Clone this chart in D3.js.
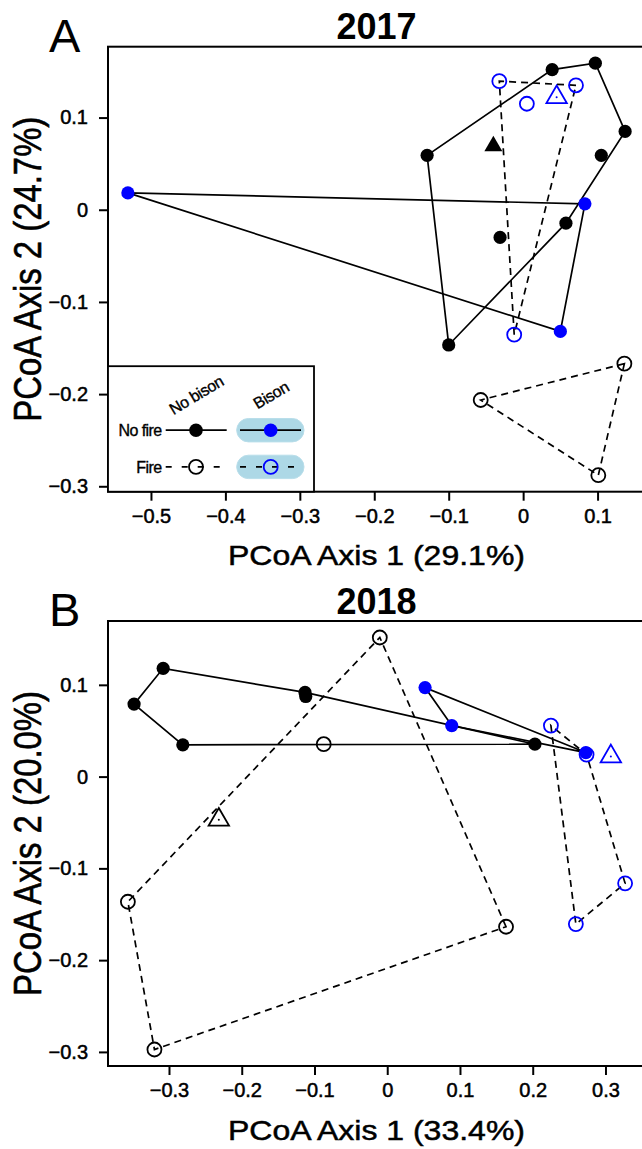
<!DOCTYPE html>
<html><head><meta charset="utf-8">
<script src="https://cdn.jsdelivr.net/npm/d3@7/dist/d3.min.js"></script>
<style>
body{margin:0;background:#fff}
svg text{font-family:"Liberation Sans",Arial,Helvetica,sans-serif;fill:#000}
</style>
</head><body>
<svg id="chart" width="642" height="1149"></svg>
<script>
// ---------- DATA ----------
const xTicks2017 = [-0.5, -0.4, -0.3, -0.2, -0.1, 0, 0.1];
const yTicks2017 = [-0.3, -0.2, -0.1, 0, 0.1];
const xTicks2018 = [-0.3, -0.2, -0.1, 0, 0.1, 0.2, 0.3];
const yTicks2018 = [-0.3, -0.2, -0.1, 0, 0.1];

// 2017 – [PCoA1, PCoA2]
const y2017_noFire_noBison = [[-0.129,0.059],[0.039,0.152],[0.097,0.159],[0.137,0.085],[0.105,0.059],[-0.031,-0.030],[0.0575,-0.0146],[-0.100,-0.1467]];
const y2017_noFire_bison   = [[-0.531,0.0183],[0.083,0.0064],[0.050,-0.132]];
const y2017_fire_noBison   = [[-0.057,-0.2064],[0.136,-0.167],[0.101,-0.288]];
const y2017_fire_bison     = [[-0.032,0.1395],[0.071,0.135],[0.005,0.115],[-0.012,-0.1355]];
const y2017_triangles      = [["noFire_noBison",-0.040,0.069],["fire_bison",0.045,0.122]];

// 2018
const y2018_noFire_noBison = [[-0.308,0.118],[-0.348,0.079],[-0.281,0.0346],[-0.113,0.0917],[-0.112,0.0873],[0.203,0.0353]];
const y2018_noFire_bison   = [[0.052,0.097],[0.0887,0.0556],[0.273,0.0262]];
const y2018_fire_noBison   = [[-0.0102,0.1516],[-0.0873,0.0353],[-0.3565,-0.1364],[-0.320,-0.2974],[0.1633,-0.1636]];
const y2018_fire_bison     = [[0.225,0.0556],[0.274,0.024],[0.327,-0.1163],[0.2593,-0.1607]];
const y2018_triangles      = [["fire_noBison",-0.2315,-0.047],["fire_bison",0.3074,0.022]];

const legendCols = ["No bison", "Bison"];
const legendRows = ["No fire", "Fire"];

// ---------- STYLES ----------
const BLUE = "#0000ff", BLACK = "#000000";
const styles = {
  noFire_noBison: {color: BLACK, filled: true,  dashed: false},
  noFire_bison:   {color: BLUE,  filled: true,  dashed: false},
  fire_noBison:   {color: BLACK, filled: false, dashed: true},
  fire_bison:     {color: BLUE,  filled: false, dashed: true}
};
const font = '"Liberation Sans",Arial,Helvetica,sans-serif';
const svg = d3.select("#chart");
svg.append("rect").attr("width",642).attr("height",1149).attr("fill","#fff");

const panels = [
  {letter:"A", title:"2017", xlab:"PCoA Axis 1 (29.1%)", ylab:"PCoA Axis 2 (24.7%)",
   xTicks:xTicks2017, yTicks:yTicks2017, top:46.7, legend:true,
   groups:{noFire_noBison:y2017_noFire_noBison, noFire_bison:y2017_noFire_bison,
           fire_noBison:y2017_fire_noBison, fire_bison:y2017_fire_bison},
   tri:y2017_triangles},
  {letter:"B", title:"2018", xlab:"PCoA Axis 1 (33.4%)", ylab:"PCoA Axis 2 (20.0%)",
   xTicks:xTicks2018, yTicks:yTicks2018, top:621, legend:false,
   groups:{noFire_noBison:y2018_noFire_noBison, noFire_bison:y2018_noFire_bison,
           fire_noBison:y2018_fire_noBison, fire_bison:y2018_fire_bison},
   tri:y2018_triangles}
];

const L = 108, W = 537, H = 445;
const fmt = d => d === 0 ? "0" : d3.format(".1f")(d);

function padded(ext){ const r = ext[1]-ext[0]; return [ext[0]-0.04*r, ext[1]+0.04*r]; }
function heavy(sel, w){ return sel.attr("stroke",BLACK).attr("stroke-width",w).attr("paint-order","stroke"); }

panels.forEach(p => {
  const all = Object.values(p.groups).flat().concat(p.tri.map(t => [t[1], t[2]]));
  const x = d3.scaleLinear().domain(padded(d3.extent(all, d => d[0]))).range([L, L+W]);
  const y = d3.scaleLinear().domain(padded(d3.extent(all, d => d[1]))).range([p.top+H, p.top]);
  const g = svg.append("g");

  // hull lines
  Object.entries(p.groups).forEach(([k, pts]) => {
    const s = styles[k];
    const hull = d3.polygonHull(pts.map(d => [x(d[0]), y(d[1])]));
    g.append("path").attr("d", d3.line().curve(d3.curveLinearClosed)(hull))
      .attr("fill","none").attr("stroke",BLACK).attr("stroke-width",1.7)
      .attr("stroke-dasharray", s.dashed ? "7,5" : null);
  });
  // points
  Object.entries(p.groups).forEach(([k, pts]) => {
    const s = styles[k];
    g.selectAll(null).data(pts).join("circle")
      .attr("cx", d => x(d[0])).attr("cy", d => y(d[1]))
      .attr("r", s.filled ? 6.6 : 7)
      .attr("fill", s.filled ? s.color : "none")
      .attr("stroke", s.filled ? "none" : s.color)
      .attr("stroke-width", 1.8);
  });
  // triangles (centroids)
  p.tri.forEach(t => {
    const s = styles[t[0]];
    const tx = x(t[1]), ty = y(t[2]);
    g.append("path").attr("d", d3.symbol(d3.symbolTriangle, s.filled ? 140 : 180)())
      .attr("transform", `translate(${tx},${ty})`)
      .attr("fill", s.filled ? s.color : "none")
      .attr("stroke", s.filled ? "none" : s.color).attr("stroke-width", 1.8);
    if (!s.filled) g.append("circle").attr("cx",tx).attr("cy",ty).attr("r",1).attr("fill",s.color);
  });

  // axes
  const ax = g.append("g").attr("transform", `translate(0,${p.top+H})`)
    .call(d3.axisBottom(x).tickValues(p.xTicks).tickFormat(fmt).tickSize(9).tickPadding(8));
  const ay = g.append("g").attr("transform", `translate(${L},0)`)
    .call(d3.axisLeft(y).tickValues(p.yTicks).tickFormat(fmt).tickSize(9).tickPadding(11));
  [ax, ay].forEach(a => {
    a.select(".domain").remove();
    a.selectAll(".tick line").attr("stroke",BLACK).attr("stroke-width",2);
    heavy(a.selectAll(".tick text").attr("font-family",font).attr("font-size",20).attr("fill",BLACK), 0.5);
  });

  // frame
  g.append("rect").attr("x",L).attr("y",p.top).attr("width",W).attr("height",H)
    .attr("fill","none").attr("stroke",BLACK).attr("stroke-width",2);

  // titles
  svg.append("text").attr("x", L+W/2).attr("y", p.top-7.5).attr("text-anchor","middle")
    .attr("font-size",36).attr("font-weight","bold").text(p.title);
  svg.append("text").attr("x", 49).attr("y", p.top+5).attr("font-size",47).text(p.letter);
  heavy(svg.append("text").attr("x", L+W/2).attr("y", p.top+H+73.5).attr("text-anchor","middle")
    .attr("font-size",28).attr("textLength",297).attr("lengthAdjust","spacingAndGlyphs").text(p.xlab), 0.5);
  heavy(svg.append("text").attr("transform", `translate(41,${p.top+H/2}) rotate(-90)`)
    .attr("text-anchor","middle").attr("font-size",38)
    .attr("textLength",305).attr("lengthAdjust","spacingAndGlyphs").text(p.ylab), 0.6);

  // legend
  if (p.legend) {
    const lb = p.top + H;            // legend bottom = axis line
    const lt = lb - 125.5;
    const lg = svg.append("g");
    lg.append("rect").attr("x",L).attr("y",lt).attr("width",206).attr("height",125.5)
      .attr("fill","#fff").attr("stroke",BLACK).attr("stroke-width",1.8);
    const colX = [196, 270.7];
    const rowY = [lt+64, lt+100.7];
    legendCols.forEach((c,i) => {
      heavy(lg.append("text").attr("transform",`translate(${colX[i]+1},${lt+30}) rotate(-31)`)
        .attr("text-anchor","middle").attr("dominant-baseline","middle").attr("font-size",16)
        .attr("letter-spacing",-0.4).text(c), 0.35);
    });
    legendRows.forEach((r,j) => {
      const yy = rowY[j];
      const dashed = j === 1;
      heavy(lg.append("text").attr("x",161.5).attr("y",yy).attr("dy","0.35em").attr("text-anchor","end")
        .attr("font-size",16).attr("letter-spacing",-0.6).text(r), 0.35);
      [0,1].forEach(i => {
        const key = (j===0 ? "noFire_" : "fire_") + (i===0 ? "noBison" : "bison");
        const s = styles[key];
        if (i === 1) {
          lg.append("rect").attr("x",236.7).attr("y",yy-11.7).attr("width",67.3).attr("height",23.4)
            .attr("rx",11.7).attr("fill","#add8e6").attr("stroke","#b9deea").attr("stroke-width",1);
        }
        const x0 = i === 0 ? 165.7 : 240, x1 = i === 0 ? 226.7 : 301;
        lg.append("line").attr("x1",x0).attr("x2",x1).attr("y1",yy).attr("y2",yy)
          .attr("stroke",BLACK).attr("stroke-width",1.7)
          .attr("stroke-dasharray", dashed ? "6,10" : null);
        lg.append("circle").attr("cx",colX[i]).attr("cy",yy).attr("r", s.filled ? 6.8 : 7)
          .attr("fill", s.filled ? s.color : "none")
          .attr("stroke", s.filled ? "none" : s.color).attr("stroke-width",1.8);
      });
    });
  }
});
</script>
</body></html>
